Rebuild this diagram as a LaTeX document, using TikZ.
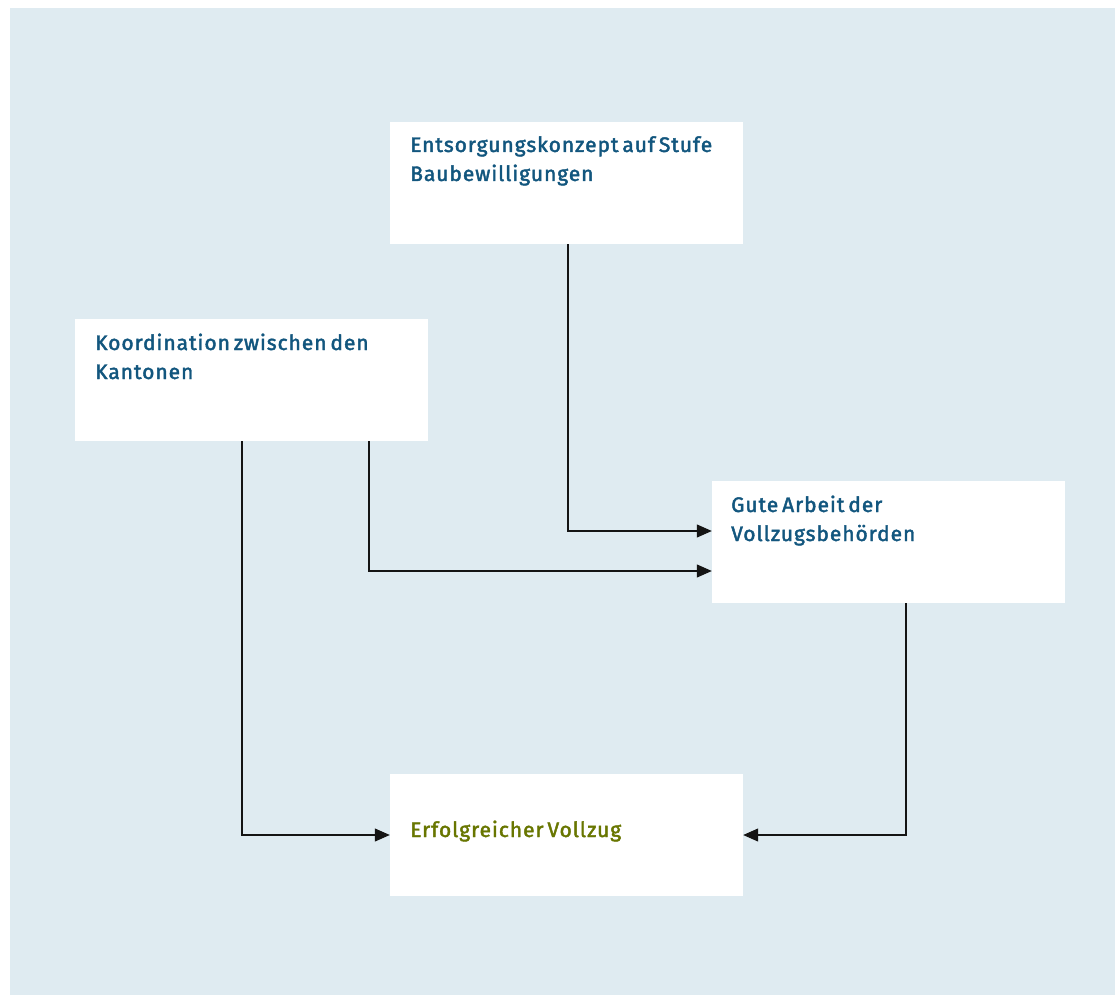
\documentclass[tikz,border=0pt]{standalone}
\usepackage{fontspec}
\setmainfont{Fira Sans}[LetterSpace=4.5,WordSpace=0.6,FakeBold=2]
\usetikzlibrary{arrows.meta}
\definecolor{bgblue}{RGB}{223,235,241}
\definecolor{txtblue}{RGB}{18,86,126}
\definecolor{txtgreen}{RGB}{104,118,0}
\definecolor{linecol}{RGB}{20,20,20}
\tikzset{
  box/.style={draw=none,fill=white,minimum width=353pt,minimum height=122pt,inner sep=0pt},
  lbl/.style={anchor=base west,inner sep=0pt,text=txtblue,font=\fontsize{21}{29}\selectfont},
  lblgreen/.style={lbl,text=txtgreen},
  conn/.style={draw=linecol,line width=1.1pt,-{Triangle[length=15pt,width=13pt]}}
}
\begin{document}
\begin{tikzpicture}[x=1pt,y=-1pt]
\useasboundingbox (0,0) rectangle (1115,995);
\fill[white] (0,0) rectangle (1115,995);
\fill[bgblue] (10,8) rectangle (1115,995);
\node[box] (top) at (566.5,183) {};
\node[box] (left) at (251.5,380) {};
\node[box] (right) at (888.5,542) {};
\node[box] (bottom) at (566.5,835) {};
\node[lbl] (top1) at (410,152) {Entsorgungskonzept auf Stufe};
\node[lbl] (top2) at (410,181) {Baubewilligungen};
\node[lbl] (left1) at (95,350) {Koordination zwischen den};
\node[lbl] (left2) at (95,379) {Kantonen};
\node[lbl] (right1) at (731,512) {Gute Arbeit der};
\node[lbl] (right2) at (731,541) {Vollzugsbehörden};
\node[lblgreen] (bottom1) at (410,837) {Erfolgreicher Vollzug};
\draw[conn] ([xshift=1.5pt]top.south) |- ([yshift=11pt]right.west);
\draw[conn] ([xshift=117.5pt]left.south) |- ([yshift=-29pt]right.west);
\draw[conn] ([xshift=-9.5pt]left.south) |- (bottom.west);
\draw[conn] ([xshift=17.5pt]right.south) |- (bottom.east);
\end{tikzpicture}
\end{document}
